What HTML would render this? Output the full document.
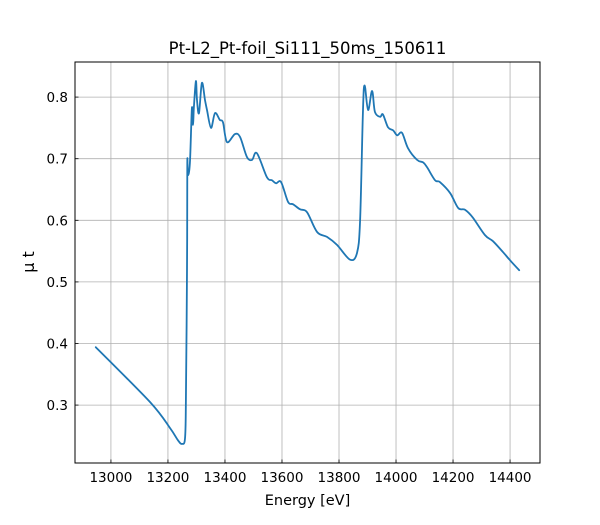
<!DOCTYPE html>
<html><head><meta charset="utf-8"><style>
body{margin:0;background:#fff;font-family:"Liberation Sans","DejaVu Sans",sans-serif}
svg text{font-family:"DejaVu Sans","Liberation Sans",sans-serif}
</style></head><body>
<svg id="chart" width="600" height="520" xmlns="http://www.w3.org/2000/svg">
<rect width="600" height="520" fill="#fff"/>
<text x="307.5" y="54" text-anchor="middle" font-size="16.5">Pt-L2_Pt-foil_Si111_50ms_150611</text>
<g id="grid"></g>
<g id="ticks"></g>
<g id="series"></g>
<rect x="75" y="62" width="465" height="401" fill="none" stroke="#000" stroke-width="1"/>
<text x="307.5" y="505" text-anchor="middle" font-size="14.5">Energy [eV]</text>
<text x="0" y="0" transform="translate(34,262) rotate(-90)" text-anchor="middle" font-size="16">μ t</text>
</svg>
<script>
const energies=[12947,13137,13207,13235,13249,13260,13263,13267,13268,13270,13277,13284,13288,13291,13298,13302,13309,13319,13330,13337,13351,13365,13382,13393,13407,13435,13453,13477,13495,13512,13547,13565,13579,13597,13621,13639,13663,13688,13723,13758,13793,13839,13863,13874,13884,13890,13902,13916,13926,13944,13954,13972,13990,14004,14021,14042,14074,14095,14109,14137,14154,14190,14218,14242,14270,14312,14340,14376,14400,14432];
const muT=[0.394,0.305,0.263,0.243,0.237,0.246,0.308,0.519,0.693,0.673,0.693,0.782,0.755,0.784,0.826,0.795,0.774,0.823,0.795,0.779,0.750,0.774,0.763,0.759,0.727,0.740,0.735,0.703,0.698,0.709,0.670,0.665,0.660,0.662,0.630,0.626,0.618,0.613,0.581,0.573,0.560,0.536,0.547,0.600,0.779,0.819,0.779,0.810,0.776,0.768,0.772,0.751,0.746,0.738,0.742,0.717,0.698,0.694,0.686,0.665,0.662,0.644,0.620,0.617,0.604,0.576,0.566,0.548,0.535,0.519];
const xTicks=[13000,13200,13400,13600,13800,14000,14200,14400];
const yTicks=[0.3,0.4,0.5,0.6,0.7,0.8];
const X0=75,X1=540,Y0=62,Y1=463,xmin=12874,xmax=14505,ymin=0.206,ymax=0.857;
function sx(e){return X0+(e-xmin)/(xmax-xmin)*(X1-X0);}
function sy(v){return Y1-(v-ymin)/(ymax-ymin)*(Y1-Y0);}
const NS="http://www.w3.org/2000/svg";
const grid=document.getElementById('grid'),ticks=document.getElementById('ticks'),series=document.getElementById('series');
function mk(tag,attrs,parent){const el=document.createElementNS(NS,tag);for(const k in attrs)el.setAttribute(k,attrs[k]);parent.appendChild(el);return el;}
xTicks.forEach(t=>{const x=sx(t);
 const g=mk('line',{x1:x,x2:x,y1:Y0,y2:Y1,stroke:'#b0b0b0','stroke-width':0.8},grid);
 
 
 const tk=mk('line',{x1:x,x2:x,y1:Y1,y2:Y1-3.5,stroke:'#000','stroke-width':0.8},ticks);
 
 
 const tx=mk('text',{x:x,y:Y1+19,'text-anchor':'middle','font-size':13.5},ticks);tx.textContent=t;
 
 
});
yTicks.forEach(t=>{const y=sy(t);
 const g=mk('line',{x1:X0,x2:X1,y1:y,y2:y,stroke:'#b0b0b0','stroke-width':0.8},grid);
 
 
 const tk=mk('line',{x1:X0,x2:X0+3.5,y1:y,y2:y,stroke:'#000','stroke-width':0.8},ticks);
 
 
 const tx=mk('text',{x:X0-7,y:y+5,'text-anchor':'end','font-size':13.5},ticks);tx.textContent=t.toFixed(1);
 
 
});
const P=energies.map((e,i)=>[sx(e),sy(muT[i])]);
let d='M'+P[0][0].toFixed(1)+','+P[0][1].toFixed(1);
for(let i=0;i<P.length-1;i++){
 const p0=P[Math.max(0,i-1)],p1=P[i],p2=P[i+1],p3=P[Math.min(P.length-1,i+2)];
 const k=1/6;
 const c1=[p1[0]+(p2[0]-p0[0])*k,p1[1]+(p2[1]-p0[1])*k];
 const c2=[p2[0]-(p3[0]-p1[0])*k,p2[1]-(p3[1]-p1[1])*k];
 c1[0]=Math.min(Math.max(c1[0],p1[0]),p2[0]);c2[0]=Math.min(Math.max(c2[0],p1[0]),p2[0]);
 d+=' C'+c1[0].toFixed(1)+','+c1[1].toFixed(1)+' '+c2[0].toFixed(1)+','+c2[1].toFixed(1)+' '+p2[0].toFixed(1)+','+p2[1].toFixed(1);
}
const line=mk('path',{d:d,fill:'none',stroke:'#1f77b4','stroke-width':1.8,'stroke-linejoin':'round','stroke-linecap':'round'},series);


</script>
</body></html>
